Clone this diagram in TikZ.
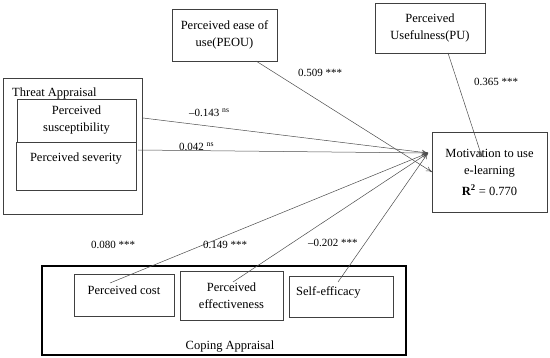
\documentclass[tikz,border=0pt]{standalone}
\usepackage{fontspec}
\setmainfont{Liberation Serif}
\usepackage{tikz}
\usetikzlibrary{arrows.meta, calc, positioning}

\tikzset{
  box/.style={draw=black!75, line width=0.6pt, inner sep=2pt, align=center},
  path/.style={draw=black!70, line width=0.5pt, -{To[length=6pt, width=5pt]}},
  coef/.style={font=\fontsize{11}{13}\selectfont, inner sep=1pt}
}

\begin{document}
\begin{tikzpicture}[x=1pt, y=-1pt, font=\fontsize{12.5}{17}\selectfont]
\useasboundingbox (0,0) rectangle (550,358);

% Threat appraisal
\node[box, minimum width=139pt, minimum height=136pt] (threat) at (72.5,146) {};
\node[anchor=west, inner sep=0pt] (threatlbl) at (12,93) {Threat Appraisal};
\node[box, minimum width=119pt, minimum height=43pt] (susc) at (76.5,120.5) {Perceived\\susceptibility};
\node[box, minimum width=120pt, minimum height=48pt] (sev) at (76,166) {};
\node[inner sep=0pt] (sevlbl) at (76,159) {Perceived severity};

% TAM
\node[box, minimum width=105pt, minimum height=52pt] (peou) at (224.5,35) {Perceived ease of\\use(PEOU)};
\node[box, minimum width=110pt, minimum height=50pt] (pu) at (430,28) {Perceived\\Usefulness(PU)};

% Outcome
\node[box, minimum width=115pt, minimum height=80pt] (mot) at (489.5,172) {Motivation to use\\e-learning\\[4pt]\textbf{R\textsuperscript{2}} = 0.770};

% Coping appraisal
\node[draw, line width=1.6pt, minimum width=364pt, minimum height=89pt] (coping) at (224,310.5) {};
\node[inner sep=0pt] (copinglbl) at (230,347) {Coping Appraisal};
\node[box, minimum width=100pt, minimum height=42pt] (cost) at (124,295) {};
\node[inner sep=0pt] (costlbl) at (124,290) {Perceived cost};
\node[box, minimum width=103pt, minimum height=49pt] (eff) at (231.5,295.5) {Perceived\\effectiveness};
\node[box, minimum width=104pt, minimum height=41pt] (self) at (341,296.5) {};
\node[anchor=west, inner sep=0pt] (selflbl) at (296,292) {Self-efficacy};

% Paths
\coordinate (hub) at (428,153);
\coordinate (hubb) at (432,172);
\coordinate (puend) at (482,157);
\coordinate (suscout) at (143,118);
\coordinate (sevout) at (138,150);
\coordinate (costout) at (110,283);
\coordinate (effout) at (233,282);
\coordinate (selfout) at (338,282);
\coordinate (peouout) at (256,61);
\coordinate (puout) at (448,53);

\draw[path] (suscout) -- (hub);
\draw[path] (sevout) -- (hub);
\draw[path] (peouout) -- (hubb);
\draw[path] (puout) -- (puend);
\draw[path] (costout) -- (hub);
\draw[path] (effout) -- (hub);
\draw[path] (selfout) -- (hub);

% Coefficients
\node[coef, anchor=west] (csusc) at (188,113) {\textendash0.143 \textsuperscript{ns}};
\node[coef, anchor=west] (csev) at (178,147) {0.042 \textsuperscript{ns}};
\node[coef, anchor=west] (cpeou) at (297,73) {0.509 ***};
\node[coef, anchor=west] (cpu) at (473,82) {0.365 ***};
\node[coef, anchor=west] (ccost) at (90,245) {0.080 ***};
\node[coef, anchor=west] (ceff) at (202,245) {0.149 ***};
\node[coef, anchor=west] (cself) at (307,243) {\textendash0.202 ***};

\end{tikzpicture}
\end{document}
